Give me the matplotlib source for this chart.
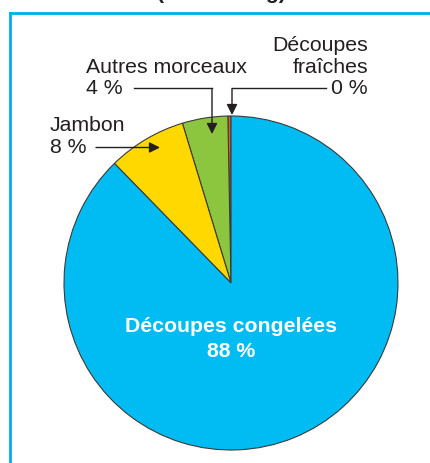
import matplotlib
matplotlib.use("Agg")
import matplotlib.pyplot as plt
from matplotlib.lines import Line2D

plt.rcParams['font.family'] = ['Liberation Sans', 'DejaVu Sans']

# ---- data ----
categories = ["Découpes fraîches", "Autres morceaux", "Jambon", "Découpes congelées"]
values = [0.3, 4.4, 7.6, 87.7]
colors = ["#F15A24", "#8CC63F", "#FFD800", "#00BCF2"]
title_text = "(en 1 000 kg)"

W, H = 430, 463
fig = plt.figure(figsize=(W / 100, H / 100), dpi=100)
fig.patch.set_facecolor("white")

# pie geometry in pixels
CX, CY, R = 231, 283, 167
ax = fig.add_axes([(CX - R) / W, (H - CY - R) / H, 2 * R / W, 2 * R / H])
wedges, _ = ax.pie(values, colors=colors, startangle=90, counterclock=True,
                   radius=1.0,
                   wedgeprops=dict(edgecolor="#3a3a3a", linewidth=0.8))
ax.set_xlim(-1, 1)
ax.set_ylim(-1, 1)
ax.set_aspect("equal")
ax.axis("off")


def p(px, py):
    """layout pixel -> pie data coordinates"""
    return ((px - CX) / R, (CY - py) / R)


pct = [f"{round(v)} %" for v in values]
fs = 15.3
ink = "#231F20"


def txt(px, py, s, ha="left", color=ink, weight="normal"):
    x, y = p(px, py)
    ax.text(x, y, s, ha=ha, va="baseline", fontsize=fs, color=color,
            fontweight=weight, clip_on=False)


# Découpes congelées (inside, bold white)
txt(CX, 332, categories[3], ha="center", color="white", weight="bold")
txt(CX, 357, pct[3], ha="center", color="white", weight="bold")

# Autres morceaux
txt(86, 73, categories[1])
txt(86, 94, pct[1])
# Jambon
txt(50, 131, categories[2])
txt(50, 153, pct[2])
# Découpes fraîches
txt(368, 51, "Découpes", ha="right")
txt(368, 73, "fraîches", ha="right")
txt(368, 94, pct[0], ha="right")

lw = 1.0
aprops = dict(arrowstyle="-|>", color=ink, lw=lw, mutation_scale=16,
              shrinkA=0, shrinkB=0)

# leader: fraîches
xs, ys = zip(p(326, 88.5), p(232, 88.5))
ax.add_line(Line2D(xs, ys, color=ink, lw=lw, clip_on=False))
ax.annotate("", xy=p(232, 115), xytext=p(232, 88.5), arrowprops=aprops,
            annotation_clip=False)
# leader: autres
xs, ys = zip(p(134, 88.5), p(212, 88.5))
ax.add_line(Line2D(xs, ys, color=ink, lw=lw, clip_on=False))
ax.annotate("", xy=p(212, 134), xytext=p(212, 88.5), arrowprops=aprops,
            annotation_clip=False)
# leader: jambon
ax.annotate("", xy=p(160, 147.5), xytext=p(96, 147.5), arrowprops=aprops,
            annotation_clip=False)

# frame (blue border, cut by the image edges)
blue = "#00AEEF"
fig.add_artist(Line2D([10 / W, 10 / W], [0, 1 - 13 / H], color=blue, lw=2,
                      transform=fig.transFigure))
fig.add_artist(Line2D([10 / W, 1.0], [1 - 13 / H, 1 - 13 / H], color=blue, lw=2,
                      transform=fig.transFigure))

# title, mostly cut by the top edge (only descenders show)
fig.text(221 / W, 1 + 0.5 / H, title_text, ha="center", va="baseline",
         fontsize=fs, fontweight="bold", color=ink)

fig.savefig("out.png", dpi=100)
